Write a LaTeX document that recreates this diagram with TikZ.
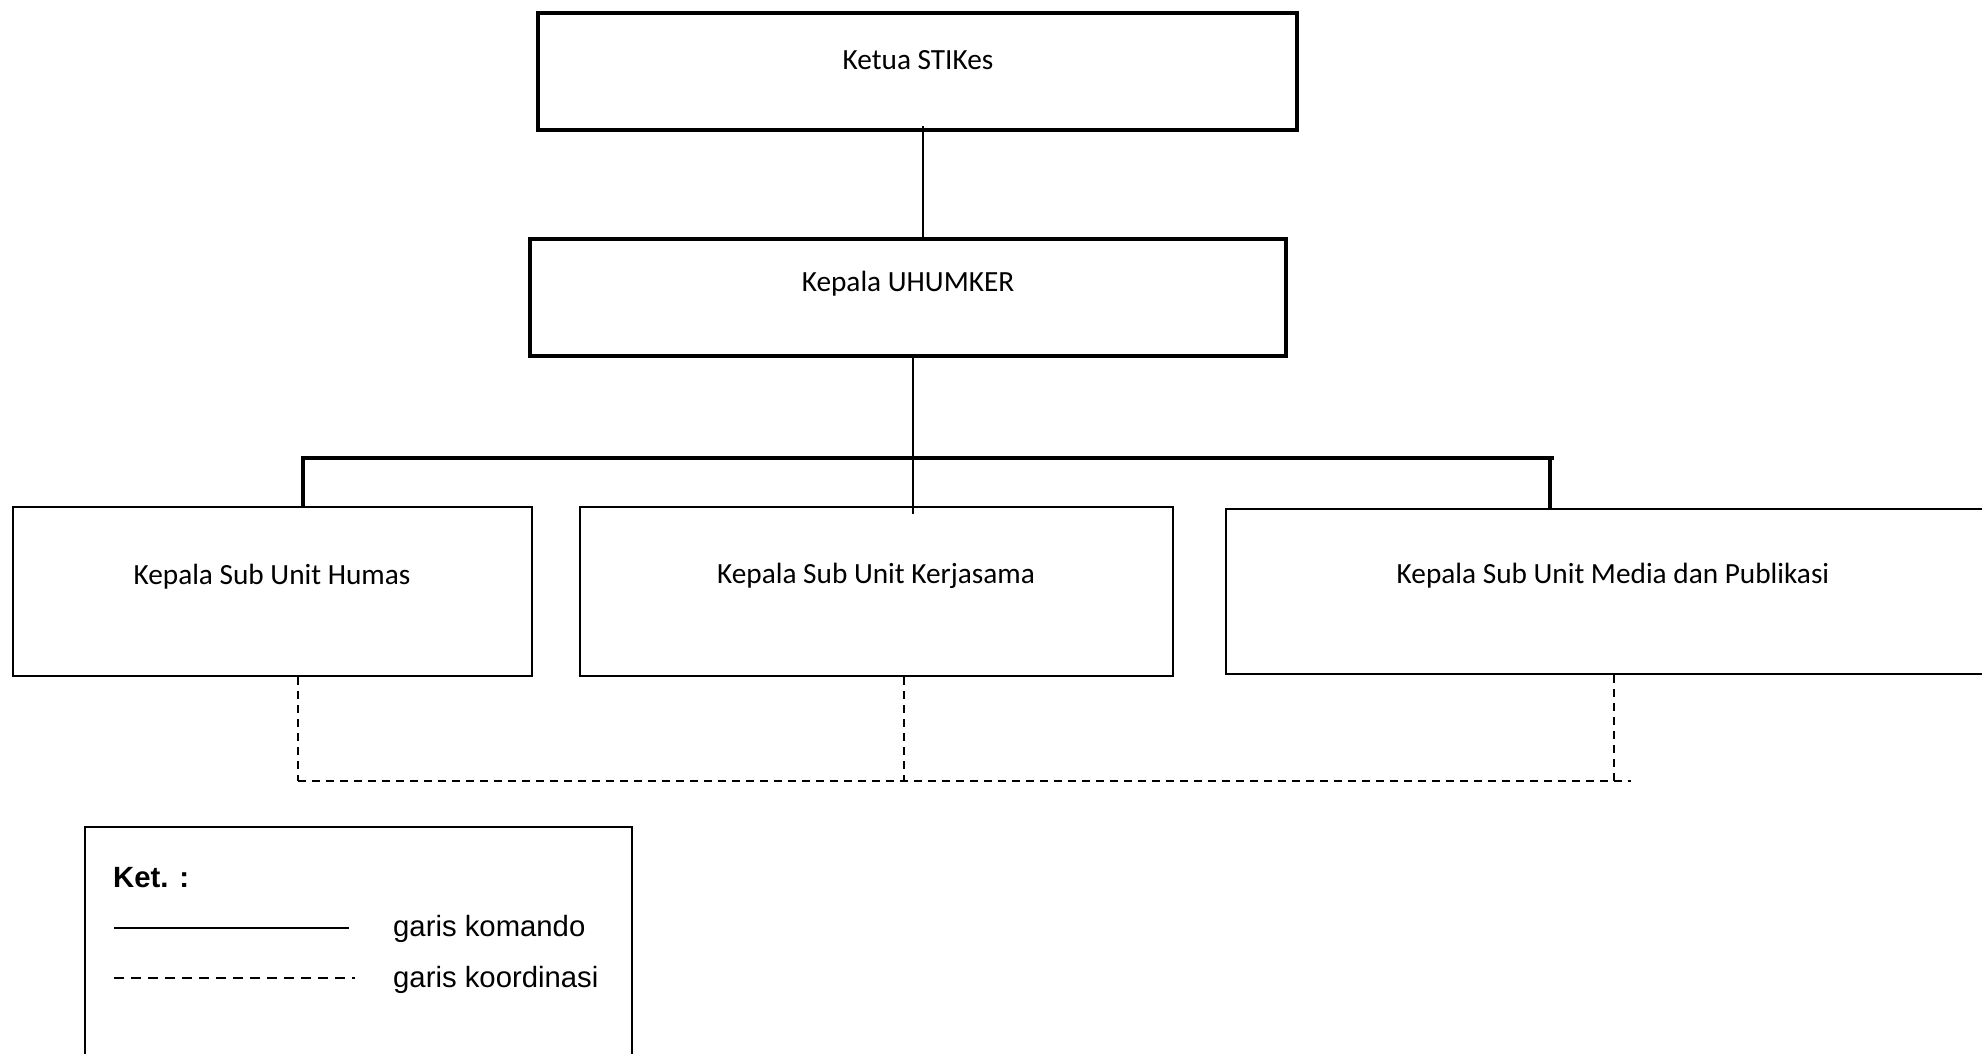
\documentclass[tikz,border=0pt]{standalone}
\usepackage{fontspec}
\setmainfont{Carlito}
\newfontfamily\arialfont{Liberation Sans}
\begin{document}
\begin{tikzpicture}[x=1pt,y=-1pt,
  topbox/.style={draw, line width=4.5pt, rectangle, inner sep=0pt},
  subbox/.style={draw, line width=2.5pt, rectangle, inner sep=0pt},
  boxtext/.style={font=\fontsize{29.3}{34}\selectfont, inner sep=0pt},
  cmd/.style={line width=2pt},
  bus/.style={line width=4pt},
  drop/.style={line width=3.5pt},
  coordline/.style={line width=2pt, dash pattern=on 8pt off 6pt},
  legbox/.style={draw, line width=2pt, rectangle, inner sep=0pt},
  legtext/.style={font=\arialfont\fontsize{29.3}{35}\selectfont, anchor=west, inner sep=0pt}]
\useasboundingbox (0,0) rectangle (1982,1053);
\clip (0,0) rectangle (1982,1053);

% top levels
\node[topbox, minimum width=759pt, minimum height=117pt] (ketua) at (917.5,71.5) {};
\node[boxtext] (ketuatxt) at (918,60) {Ketua STIKes};
\node[topbox, minimum width=756pt, minimum height=117pt] (uhumker) at (908,297.5) {};
\node[boxtext] (uhumkertxt) at (908,284) {Kepala UHUMKER};

% sub units
\node[subbox, minimum width=519pt, minimum height=169pt] (humas) at (272.5,591.5) {};
\node[boxtext] (humastxt) at (272,577) {Kepala Sub Unit Humas};
\node[subbox, minimum width=593pt, minimum height=169pt] (kerja) at (876.5,591.5) {};
\node[boxtext] (kerjatxt) at (876,576) {Kepala Sub Unit Kerjasama};
\node[subbox, minimum width=774pt, minimum height=165pt] (media) at (1613,591.5) {};
\node[boxtext] (mediatxt) at (1613,576) {Kepala Sub Unit Media dan Publikasi};

% command lines
\coordinate (c1) at (923,126);
\draw[cmd] (c1) -- (c1 |- uhumker.north);
\coordinate (c2) at (913,514);
\draw[cmd] (c2 |- uhumker.south) -- (c2);
\coordinate (busL) at (301,458);
\coordinate (busR) at (1554,458);
\draw[bus] (busL) -- (busR);
\coordinate (dL) at (303,458);
\coordinate (dR) at (1550,458);
\draw[drop] (dL) -- (dL |- humas.north);
\draw[drop] (dR) -- (dR |- media.north);

% coordination lines
\coordinate (k1) at (298,781);
\coordinate (k2) at (904,781);
\coordinate (k3) at (1614,781);
\coordinate (kend) at (1631,781);
\draw[coordline] (k1 |- humas.south) -- (k1);
\draw[coordline] (k2 |- kerja.south) -- (k2);
\draw[coordline] (k3 |- media.south) -- (k3);
\draw[coordline] (k1) -- (kend);

% legend
\node[legbox, minimum width=547pt, minimum height=243pt] (legend) at (358.5,948.5) {};
\node[legtext, font=\arialfont\bfseries\fontsize{29.3}{35}\selectfont] (ket) at (113,878) {Ket. :};
\coordinate (s1) at (114,928);
\coordinate (s2) at (349,928);
\draw[line width=1.5pt] (s1) -- (s2);
\node[legtext] (komando) at (393,929) {garis komando};
\coordinate (t1) at (114,978);
\coordinate (t2) at (355,978);
\draw[line width=1.5pt, dash pattern=on 10pt off 7pt] (t1) -- (t2);
\node[legtext] (koord) at (393,980) {garis koordinasi};
\end{tikzpicture}
\end{document}
